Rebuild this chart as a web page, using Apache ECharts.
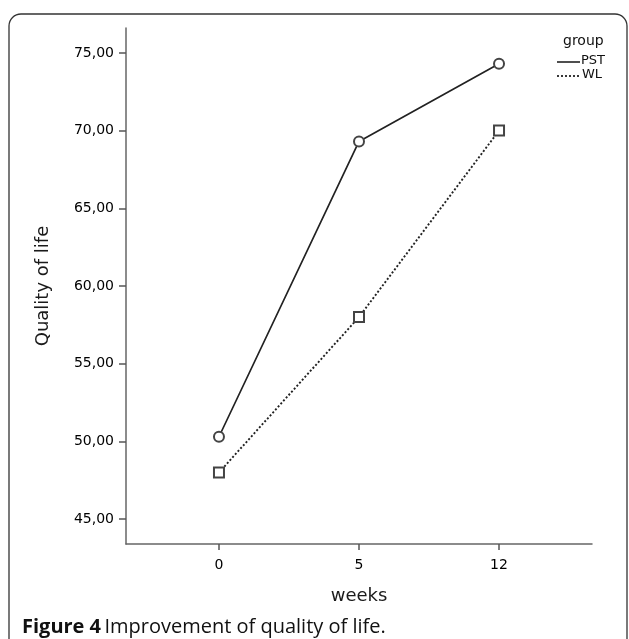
<!DOCTYPE html>
<html>
<head>
<meta charset="utf-8">
<script src="https://cdn.jsdelivr.net/npm/echarts@6/dist/echarts.min.js"></script>
<style>
html,body{margin:0;padding:0;background:#fff;}
#chart{width:629px;height:639px;}
</style>
</head>
<body>
<div id="chart"></div>
<script>
const categories = ['0', '5', '12'];
const pstValues = [50.3, 69.3, 74.3];
const wlValues = [48.0, 58.0, 70.0];
const yTicks = [45, 50, 55, 60, 65, 70, 75];
const seriesNames = ['PST', 'WL'];

const chart = echarts.init(document.getElementById('chart'), null, {renderer: 'canvas'});
const FONT = '"DejaVu Sans", Verdana, sans-serif';
const catIdx = categories.map((c, i) => i);

const option = {
  backgroundColor: '#fff',
  animation: false,
  grid: {left: 126, right: 37, top: 28, bottom: 95, containLabel: false},
  xAxis: {
    type: 'value',
    min: -0.664, max: 2.664,
    name: 'weeks',
    nameLocation: 'middle',
    nameGap: 43,
    nameTextStyle: {fontFamily: FONT, fontSize: 18, color: '#1a1a1a'},
    axisLine: {show: true, onZero: false, lineStyle: {color: '#666', width: 1.5}},
    axisTick: {show: true, customValues: catIdx, length: 6, lineStyle: {color: '#555', width: 1.5}},
    axisLabel: {customValues: catIdx, formatter: v => categories[Math.round(v)], fontFamily: FONT, fontSize: 14, color: '#000', margin: 14},
    splitLine: {show: false}
  },
  yAxis: {
    type: 'value',
    min: 43.4, max: 76.6,
    name: 'Quality of life',
    nameLocation: 'middle',
    nameGap: 74,
    nameRotate: 90,
    nameTextStyle: {fontFamily: FONT, fontSize: 18, color: '#1a1a1a'},
    axisLine: {show: true, onZero: false, lineStyle: {color: '#666', width: 1.5}},
    axisTick: {show: true, customValues: yTicks, length: 7, lineStyle: {color: '#555', width: 1.5}},
    axisLabel: {customValues: yTicks, formatter: v => v.toFixed(2).replace('.', ','), fontFamily: FONT, fontSize: 14, color: '#000', margin: 12},
    splitLine: {show: false}
  },
  series: [
    {
      name: seriesNames[0], type: 'line',
      data: pstValues.map((v, i) => [catIdx[i], v]),
      symbol: 'emptyCircle', symbolSize: 10,
      lineStyle: {color: '#222', width: 1.7, type: 'solid'},
      itemStyle: {color: '#444', borderColor: '#444', borderWidth: 1.3}
    },
    {
      name: seriesNames[1], type: 'line',
      data: wlValues.map((v, i) => [catIdx[i], v]),
      symbol: 'emptyRect', symbolSize: 10,
      lineStyle: {color: '#222', width: 1.9, type: [2, 2]},
      itemStyle: {color: '#444', borderColor: '#444', borderWidth: 1.3}
    }
  ],
  graphic: [
    {type: 'rect', shape: {x: 9, y: 14, width: 618, height: 650, r: 12}, style: {fill: 'none', stroke: '#333', lineWidth: 1.3}, z: 0},
    {type: 'text', left: 563, top: 34, style: {text: 'group', font: '14px ' + FONT, fill: '#111'}},
    {type: 'line', shape: {x1: 557, y1: 62, x2: 580, y2: 62}, style: {stroke: '#222', lineWidth: 1.6}},
    {type: 'text', left: 581, top: 54, style: {text: seriesNames[0], font: '13px ' + FONT, fill: '#111'}},
    {type: 'line', shape: {x1: 557, y1: 76, x2: 580, y2: 76}, style: {stroke: '#222', lineWidth: 1.8, lineDash: [2, 2]}},
    {type: 'text', left: 582, top: 68, style: {text: seriesNames[1], font: '13px ' + FONT, fill: '#111'}},
    {type: 'text', left: 22, top: 617, style: {rich: {b: {font: 'bold 20px "Open Sans", sans-serif', fill: '#111'}, n: {font: '20px "Open Sans", sans-serif', fill: '#111'}}, text: '{b|Figure 4} {n|Improvement of quality of life.}'}}
  ]
};
chart.setOption(option);
</script>
</body>
</html>
